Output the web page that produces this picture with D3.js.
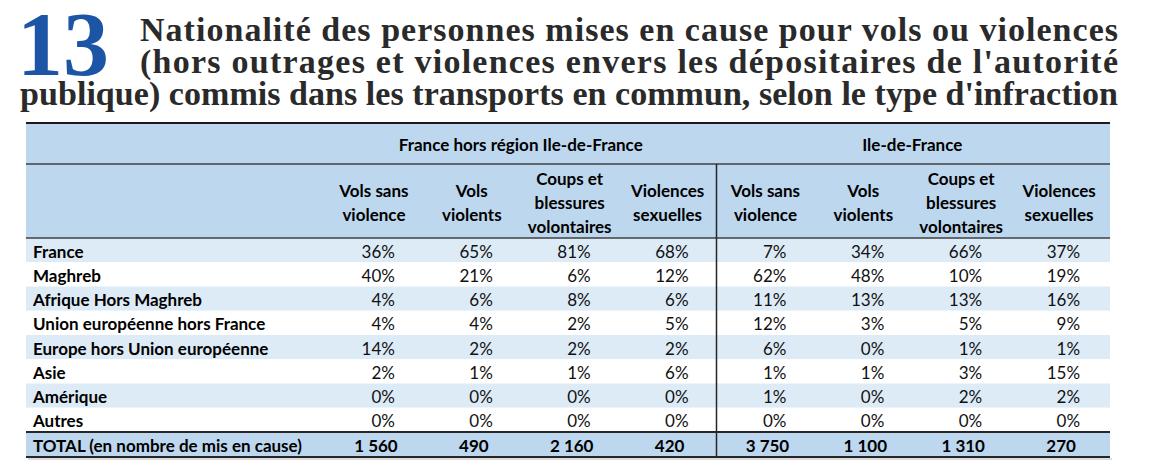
<!DOCTYPE html>
<html>
<head>
<meta charset="utf-8">
<script src="https://cdn.jsdelivr.net/npm/d3@7"></script>
<style>
  body { margin: 0; background: #fff; }
  svg { display: block; }
</style>
</head>
<body>
<svg id="chart" width="1160" height="476"></svg>
<script>
// chart number and title lines
const chartNumber = "13";
const titleLines = [
  "Nationalité des personnes mises en cause pour vols ou violences",
  "(hors outrages et violences envers les dépositaires de l'autorité",
  "publique) commis dans les transports en commun, selon le type d'infraction"
];

// table content
const regionGroups = ["France hors région Ile-de-France", "Ile-de-France"];
const offenceTypes = [
  ["Vols sans", "violence"],
  ["Vols", "violents"],
  ["Coups et", "blessures", "volontaires"],
  ["Violences", "sexuelles"]
];
const originCategories = [
  "France", "Maghreb", "Afrique Hors Maghreb", "Union européenne hors France",
  "Europe hors Union européenne", "Asie", "Amérique", "Autres"
];
const totalLabel = "TOTAL (en nombre de mis en cause)";

// percentages, one array per column
const horsIdfVolsSansViolence   = [36, 40, 4, 4, 14, 2, 0, 0];
const horsIdfVolsViolents       = [65, 21, 6, 4, 2, 1, 0, 0];
const horsIdfCoupsBlessures     = [81, 6, 8, 2, 2, 1, 0, 0];
const horsIdfViolencesSexuelles = [68, 12, 6, 5, 2, 6, 0, 0];
const idfVolsSansViolence       = [7, 62, 11, 12, 6, 1, 1, 0];
const idfVolsViolents           = [34, 48, 13, 3, 0, 1, 0, 0];
const idfCoupsBlessures         = [66, 10, 13, 5, 1, 3, 2, 0];
const idfViolencesSexuelles     = [37, 19, 16, 9, 1, 15, 2, 0];

// totals (number of persons)
const totalMisEnCause = [1560, 490, 2160, 420, 3750, 1100, 1310, 270];

const columns = [
  horsIdfVolsSansViolence, horsIdfVolsViolents, horsIdfCoupsBlessures, horsIdfViolencesSexuelles,
  idfVolsSansViolence, idfVolsViolents, idfCoupsBlessures, idfViolencesSexuelles
];

const svg = d3.select("#chart");

const frLocale = d3.formatLocale({decimal: ",", thousands: "\u00a0", grouping: [3], currency: ["", " €"]});
const fmtTotal = frLocale.format(",");
const fmtPct = d => d + "%";

// layout
const tableLeft = 26, tableRight = 1110;
const top1 = 123, top2 = 164, top3 = 238, totalTop = 432, bottom = 457;
const sansFont = "Lato, 'Open Sans', sans-serif";
const fs = 17;

const colIdx = d3.range(columns.length);
const x = d3.scaleBand().domain(colIdx).range([325, 1108]);
const xGroup = d3.scaleBand().domain(regionGroups).range([325, 1108]);
const y = d3.scaleBand().domain(originCategories).range([top3, totalTop]);

// ---- title ----
svg.append("text")
  .attr("x", 17).attr("y", 75)
  .attr("font-family", "'Liberation Serif', 'DejaVu Serif', serif")
  .attr("font-weight", "bold")
  .attr("font-size", 92)
  .attr("fill", "#1d55a6")
  .text(chartNumber);

const titleX = [140, 140, 20];
const titleY = [41, 73, 105];
svg.append("g").selectAll("text")
  .data(titleLines)
  .join("text")
    .attr("x", (d, i) => titleX[i])
    .attr("y", (d, i) => titleY[i])
    .attr("font-family", "'Liberation Serif', 'DejaVu Serif', serif")
    .attr("font-weight", "bold")
    .attr("font-size", 34)
    .attr("fill", "#2a2a2a")
    .attr("textLength", (d, i) => 1118 - titleX[i])
    .attr("lengthAdjust", "spacing")
    .text(d => d);

// ---- backgrounds ----
svg.append("rect")
  .attr("x", tableLeft).attr("y", top1)
  .attr("width", tableRight - tableLeft).attr("height", top3 - top1)
  .attr("fill", "#bdd7ee");

svg.append("g").selectAll("rect")
  .data(originCategories)
  .join("rect")
    .attr("x", tableLeft)
    .attr("y", d => y(d))
    .attr("width", tableRight - tableLeft)
    .attr("height", y.bandwidth())
    .attr("fill", (d, i) => i % 2 === 0 ? "#ddebf7" : "#ffffff");

svg.append("rect")
  .attr("x", tableLeft).attr("y", totalTop)
  .attr("width", tableRight - tableLeft).attr("height", bottom - totalTop)
  .attr("fill", "#bdd7ee");

// ---- header text ----
svg.append("g").selectAll("text")
  .data(regionGroups)
  .join("text")
    .attr("x", d => xGroup(d) + xGroup.bandwidth() / 2)
    .attr("y", (top1 + top2) / 2 + 1)
    .attr("text-anchor", "middle")
    .attr("dominant-baseline", "central")
    .attr("font-family", sansFont)
    .attr("font-weight", "bold")
    .attr("font-size", fs)
    .attr("fill", "#000")
    .text(d => d);

const headMid = (top2 + top3) / 2 + 1;
const headers = svg.append("g").selectAll("text")
  .data(colIdx)
  .join("text")
    .attr("text-anchor", "middle")
    .attr("font-family", sansFont)
    .attr("font-weight", "bold")
    .attr("font-size", fs)
    .attr("fill", "#000");

headers.each(function(c) {
  const lines = offenceTypes[c % offenceTypes.length];
  const cx = x(c) + x.bandwidth() / 2;
  d3.select(this).selectAll("tspan")
    .data(lines)
    .join("tspan")
      .attr("x", cx)
      .attr("y", (d, i) => headMid + (i - (lines.length - 1) / 2) * 24)
      .attr("dominant-baseline", "central")
      .text(d => d);
});

// ---- body ----
svg.append("g").selectAll("text")
  .data(originCategories)
  .join("text")
    .attr("x", 33)
    .attr("y", d => y(d) + y.bandwidth() / 2 + 1)
    .attr("dominant-baseline", "central")
    .attr("font-family", sansFont)
    .attr("font-weight", "bold")
    .attr("font-size", fs)
    .attr("fill", "#000")
    .text(d => d);

const cells = colIdx.flatMap(c => columns[c].map((v, r) => ({c, r, v})));
svg.append("g").selectAll("text")
  .data(cells)
  .join("text")
    .attr("x", d => x(d.c) + x.bandwidth() / 2 + 21)
    .attr("y", d => y(originCategories[d.r]) + y.bandwidth() / 2 + 1)
    .attr("text-anchor", "end")
    .attr("dominant-baseline", "central")
    .attr("font-family", sansFont)
    .attr("font-size", fs)
    .attr("fill", "#111")
    .text(d => fmtPct(d.v));

// ---- total row ----
svg.append("text")
  .attr("x", 33)
  .attr("y", (totalTop + bottom) / 2 + 1)
  .attr("dominant-baseline", "central")
  .attr("font-family", sansFont)
  .attr("font-weight", "bold")
  .attr("font-size", fs)
  .attr("fill", "#000")
  .text(totalLabel);

svg.append("g").selectAll("text")
  .data(totalMisEnCause)
  .join("text")
    .attr("x", (d, i) => x(i) + x.bandwidth() / 2 + 2)
    .attr("y", (totalTop + bottom) / 2 + 1)
    .attr("text-anchor", "middle")
    .attr("dominant-baseline", "central")
    .attr("font-family", sansFont)
    .attr("font-weight", "bold")
    .attr("font-size", fs)
    .attr("fill", "#000")
    .text(d => fmtTotal(d));

// ---- rules ----
const rules = [
  {y: top1, w: 2, c: "#1a1a1a"},
  {y: top2, w: 1.5, c: "#404040"},
  {y: top3, w: 1.5, c: "#404040"},
  {y: totalTop, w: 2, c: "#262626"},
  {y: bottom, w: 2, c: "#262626"}
];
svg.append("g").selectAll("line")
  .data(rules)
  .join("line")
    .attr("x1", tableLeft).attr("x2", tableRight)
    .attr("y1", d => d.y).attr("y2", d => d.y)
    .attr("stroke", d => d.c)
    .attr("stroke-width", d => d.w);

svg.append("line")
  .attr("x1", tableLeft + 2).attr("x2", tableRight + 2)
  .attr("y1", bottom + 2).attr("y2", bottom + 2)
  .attr("stroke", "#bbb").attr("stroke-width", 1);

const sepX = x(4);
svg.append("line")
  .attr("x1", sepX).attr("x2", sepX)
  .attr("y1", top2).attr("y2", bottom)
  .attr("stroke", "#262626")
  .attr("stroke-width", 1.5);
</script>
</body>
</html>
